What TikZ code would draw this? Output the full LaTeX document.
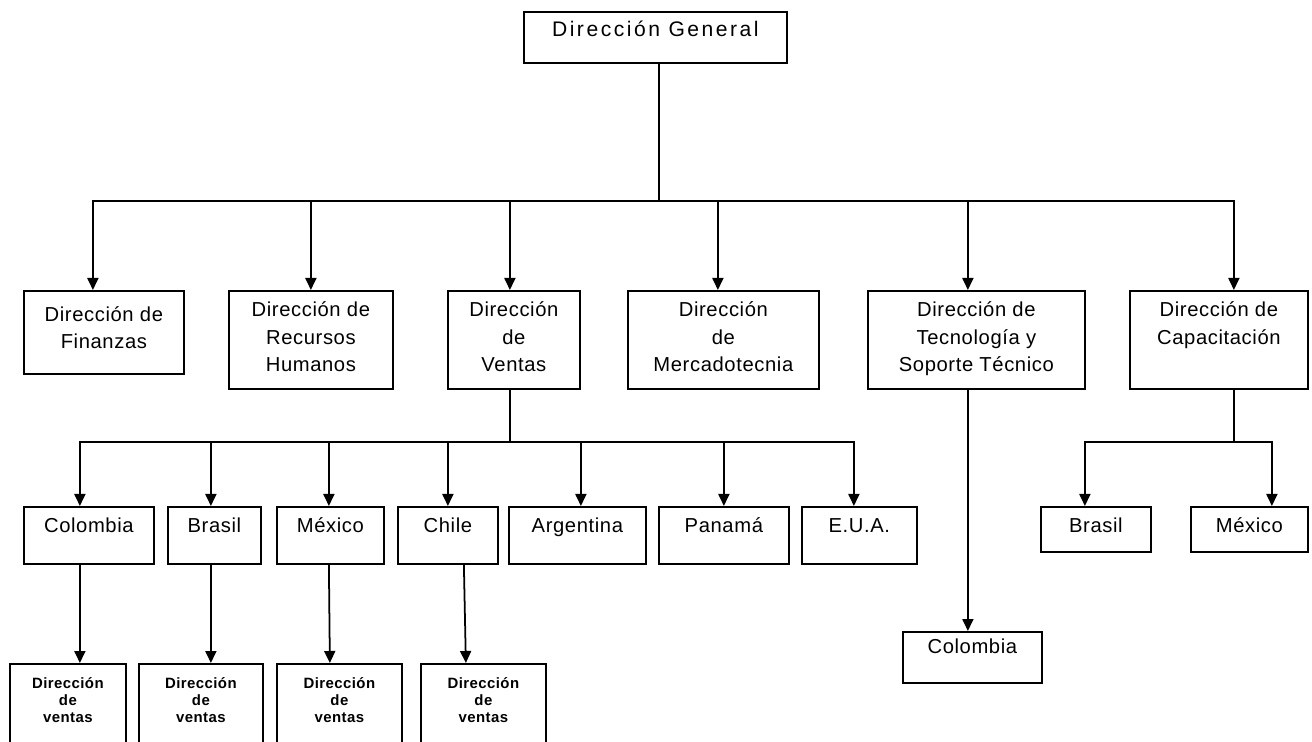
\documentclass[tikz,border=0pt]{standalone}
\usepackage{fontspec}
\setmainfont{Liberation Sans}[LetterSpace=3]
\newfontfamily\dgfont{Liberation Sans}[LetterSpace=12]
\usetikzlibrary{arrows.meta}

\begin{document}
\begin{tikzpicture}[
  x=0.02cm, y=-0.02cm,
  box/.style 2 args={draw, line width=1pt, anchor=north west, inner sep=0pt, minimum width=#1*0.02cm, minimum height=#2*0.02cm},
  txt/.style={anchor=north, align=center, inner sep=0pt, yshift=-#1, font=\fontsize{11.5}{15.4}\selectfont, execute at begin node={\rule{0pt}{1em}}},
  mini/.style={font=\fontsize{8.5}{9.7}\selectfont\bfseries},
  arrow/.style={-{Triangle[length=2.4mm, width=2.2mm]}, line width=1pt}
]
\useasboundingbox (0,0) rectangle (1312,742);
\clip (0,0) rectangle (1312,742);

% Nodes
\node[box={263}{51}, label={[txt=2.3pt, font={\fontsize{12}{14}\dgfont}]north:Dirección General}] (dg) at (523,11) {};

\node[box={160}{83}, label={[txt=9.5pt]north:Dirección de\\Finanzas}] (fin) at (23,290) {};
\node[box={164}{98}, label={[txt=6.7pt]north:Dirección de\\Recursos\\Humanos}] (rh) at (228,290) {};
\node[box={132}{98}, label={[txt=6.7pt]north:Dirección\\de\\Ventas}] (ven) at (447,290) {};
\node[box={191}{98}, label={[txt=6.7pt]north:Dirección\\de\\Mercadotecnia}] (mer) at (627,290) {};
\node[box={217}{98}, label={[txt=6.7pt]north:Dirección de\\Tecnología y\\Soporte Técnico}] (tec) at (867,290) {};
\node[box={178}{98}, label={[txt=6.7pt]north:Dirección de\\Capacitación}] (cap) at (1129,290) {};

\node[box={130}{57}, label={[txt=3.3pt]north:Colombia}] (vcol) at (23,506) {};
\node[box={93}{57}, label={[txt=3.3pt]north:Brasil}] (vbra) at (167,506) {};
\node[box={107}{57}, label={[txt=3.3pt]north:México}] (vmex) at (276,506) {};
\node[box={100}{57}, label={[txt=3.3pt]north:Chile}] (vchi) at (397,506) {};
\node[box={137}{57}, label={[txt=3.3pt]north:Argentina}] (varg) at (508,506) {};
\node[box={130}{57}, label={[txt=3.3pt]north:Panamá}] (vpan) at (658,506) {};
\node[box={115}{57}, label={[txt=3.3pt]north:E.U.A.}] (veua) at (801,506) {};

\node[box={116}{100}, label={[txt=8pt, mini]north:Dirección\\de\\ventas}] (dv1) at (9,663) {};
\node[box={124}{100}, label={[txt=8pt, mini]north:Dirección\\de\\ventas}] (dv2) at (138,663) {};
\node[box={125}{100}, label={[txt=8pt, mini]north:Dirección\\de\\ventas}] (dv3) at (276,663) {};
\node[box={125}{100}, label={[txt=8pt, mini]north:Dirección\\de\\ventas}] (dv4) at (420,663) {};

\node[box={139}{51}, label={[txt=1pt]north:Colombia}] (tcol) at (902,631) {};
\node[box={110}{45}, label={[txt=3.3pt]north:Brasil}] (cbra) at (1040,506) {};
\node[box={117}{45}, label={[txt=3.3pt]north:México}] (cmex) at (1190,506) {};

% Arrows
\draw[arrow] ([shift={(3.5,0)}]dg.south) -- ++(0,137) -| ([shift={(-11,0)}]fin.north);
\draw[arrow] ([shift={(3.5,0)}]dg.south) -- ++(0,137) -| (rh.north);
\draw[arrow] ([shift={(3.5,0)}]dg.south) -- ++(0,137) -| ([shift={(-4,0)}]ven.north);
\draw[arrow] ([shift={(3.5,0)}]dg.south) -- ++(0,137) -| ([shift={(-5.5,0)}]mer.north);
\draw[arrow] ([shift={(3.5,0)}]dg.south) -- ++(0,137) -| ([shift={(-8.5,0)}]tec.north);
\draw[arrow] ([shift={(3.5,0)}]dg.south) -- ++(0,137) -| ([shift={(15,0)}]cap.north);

\draw[arrow] ([shift={(-4,0)}]ven.south) -- ++(0,52) -| ([shift={(-9,0)}]vcol.north);
\draw[arrow] ([shift={(-4,0)}]ven.south) -- ++(0,52) -| ([shift={(-3.5,0)}]vbra.north);
\draw[arrow] ([shift={(-4,0)}]ven.south) -- ++(0,52) -| ([shift={(-1.5,0)}]vmex.north);
\draw[arrow] ([shift={(-4,0)}]ven.south) -- ++(0,52) -| (vchi.north);
\draw[arrow] ([shift={(-4,0)}]ven.south) -- ++(0,52) -| ([shift={(3.5,0)}]varg.north);
\draw[arrow] ([shift={(-4,0)}]ven.south) -- ++(0,52) -| (vpan.north);
\draw[arrow] ([shift={(-4,0)}]ven.south) -- ++(0,52) -| ([shift={(-5.5,0)}]veua.north);

\draw[arrow] ([shift={(-9,0)}]vcol.south) -- ([shift={(12,0)}]dv1.north);
\draw[arrow] ([shift={(-3.5,0)}]vbra.south) -- ([shift={(10,0)}]dv2.north);
\draw[arrow] ([shift={(-1.5,0)}]vmex.south) -- ([shift={(-9.5,0)}]dv3.north);
\draw[arrow] ([shift={(16,0)}]vchi.south) -- ([shift={(-17.5,0)}]dv4.north);

\draw[arrow] ([shift={(-8.5,0)}]tec.south) -- ([shift={(-4.5,0)}]tcol.north);

\draw[arrow] ([shift={(15,0)}]cap.south) -- ++(0,52) -| ([shift={(-11,0)}]cbra.north);
\draw[arrow] ([shift={(15,0)}]cap.south) -- ++(0,52) -| ([shift={(22.5,0)}]cmex.north);

\end{tikzpicture}
\end{document}
